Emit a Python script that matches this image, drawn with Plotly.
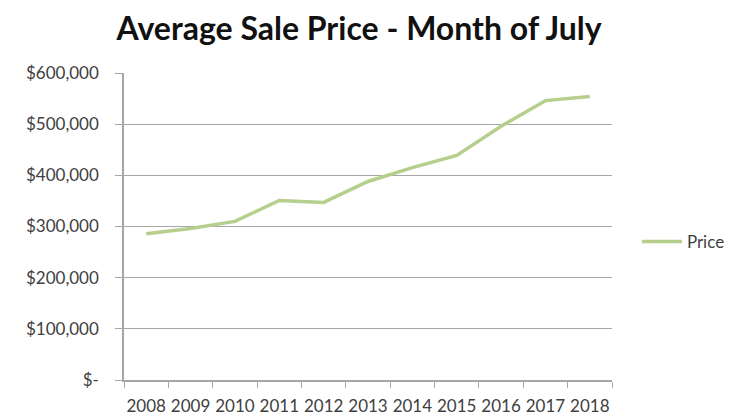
import plotly.graph_objects as go

years = ["2008", "2009", "2010", "2011", "2012", "2013", "2014", "2015", "2016", "2017", "2018"]
prices = [286000, 296000, 310000, 351000, 347000, 388000, 415000, 439000, 496000, 546000, 554000]
ytick_vals = [0, 100000, 200000, 300000, 400000, 500000, 600000]
ytick_text = ["$-", "$100,000", "$200,000", "$300,000", "$400,000", "$500,000", "$600,000"]

fig = go.Figure()
fig.add_trace(go.Scatter(
    x=years, y=prices, mode="lines", name="Price",
    line=dict(color="#b6cf8c", width=3.5),
))

fig.update_layout(
    width=730, height=417,
    margin=dict(l=124, r=118, t=73, b=37, autoexpand=False),
    paper_bgcolor="white", plot_bgcolor="white",
    title=dict(text="<b>Average Sale Price - Month of July</b>",
               x=0.492, xanchor="center", y=0.932, yanchor="middle",
               font=dict(family="Lato", size=32, color="#111111")),
    font=dict(family="Lato", size=17, color="#595959"),
    showlegend=True,
    legend=dict(x=1.051, xanchor="left", y=0.45, yanchor="middle",
                itemwidth=40,
                font=dict(family="Lato", size=17, color="#404040"),
                bgcolor="rgba(0,0,0,0)"),
    xaxis=dict(type="category", range=[-0.5, 10.5], tickson="boundaries",
               ticks="outside", ticklen=6,
               tickangle=0, automargin=False,
               tickcolor="#a6a6a6", showline=True, linecolor="#a6a6a6", linewidth=1.5,
               showgrid=False, tickfont=dict(size=17, color="#404040"), fixedrange=True,
               ticklabelstandoff=10),
    yaxis=dict(range=[0, 600000], tickvals=ytick_vals, ticktext=ytick_text,
               automargin=False,
               showgrid=True, gridcolor="#a6a6a6", gridwidth=1.2,
               ticks="outside", ticklen=7, tickcolor="#a6a6a6",
               showline=True, linecolor="#a6a6a6", linewidth=1.5,
               zeroline=False, tickfont=dict(size=17, color="#404040"),
               ticklabelstandoff=13),
)

fig.write_html("out.html")
